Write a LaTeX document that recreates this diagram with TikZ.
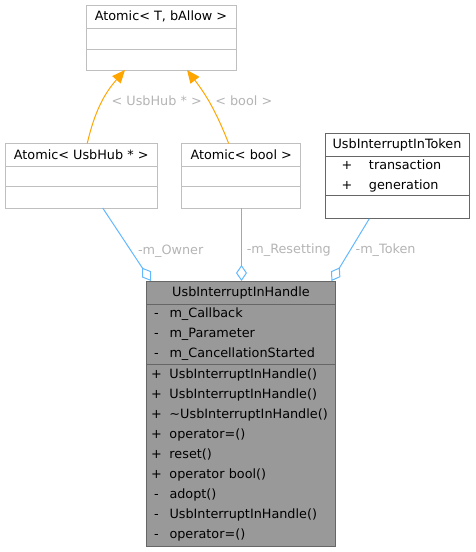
\documentclass[tikz,border=0pt]{standalone}
\usepackage{fontspec}
\setmainfont{DejaVu Sans}
\usetikzlibrary{positioning,arrows.meta}

\definecolor{lightline}{HTML}{BFBFBF}
\definecolor{darkline}{HTML}{666666}
\definecolor{mainfill}{HTML}{999999}
\definecolor{instline}{HTML}{FFA500}
\definecolor{membline}{HTML}{63B8FF}
\definecolor{lbltext}{HTML}{B4B4B4}

% one member line: sign, gap, name
\newcommand{\mem}[3][7pt]{\makebox[12pt]{#2}\hspace{#1}#3}

\tikzset{
  box/.style = {rectangle, draw = lightline, line width = 1pt, fill = white,
                inner sep = 0pt, outer sep = 0pt},
  darkbox/.style = {box, draw = darkline},
  mainbox/.style = {box, draw = darkline, fill = mainfill},
  members/.style = {align = left, inner xsep = 4pt,
                    font = \fontsize{12.8}{20}\selectfont},
  inst/.style = {draw = instline, line width = 1pt, -{Triangle[length=13pt, width=11pt]}},
  memb/.style = {draw = membline, line width = 1pt, -{Diamond[open, length=16pt, width=11pt]}},
  lbl/.style = {text = lbltext, inner sep = 0pt}
}

\begin{document}
\begin{tikzpicture}[x = 1pt, y = -1pt, font = \fontsize{12.8}{15}\selectfont]
  \useasboundingbox (0, 0) rectangle (475, 552);

  % template base
  \node[box, minimum width = 150pt, minimum height = 23pt] (baseT) at (161, 16.5) {Atomic< T, bAllow >};
  \node[box, minimum width = 150pt, minimum height = 21pt] (baseA) [below = 0pt of baseT] {};
  \node[box, minimum width = 150pt, minimum height = 21pt] (baseM) [below = 0pt of baseA] {};

  % instances
  \node[box, minimum width = 152pt, minimum height = 23pt] (hubT) at (81.2, 155) {Atomic< UsbHub * >};
  \node[box, minimum width = 152pt, minimum height = 20pt] (hubA) [below = 0pt of hubT] {};
  \node[box, minimum width = 152pt, minimum height = 21.5pt] (hubM) [below = 0pt of hubA] {};

  \node[box, minimum width = 119pt, minimum height = 23pt] (boolT) at (241.2, 155) {Atomic< bool >};
  \node[box, minimum width = 119pt, minimum height = 20pt] (boolA) [below = 0pt of boolT] {};
  \node[box, minimum width = 119pt, minimum height = 21.5pt] (boolM) [below = 0pt of boolA] {};

  % token
  \node[darkbox, minimum width = 144pt, minimum height = 23.4pt] (tokT) at (397, 145) {UsbInterruptInToken};
  \node[darkbox, members, inner xsep = 16pt, text width = 112pt, minimum width = 144pt, minimum height = 39pt] (tokA) [below = 0pt of tokT]
    {\mem[16pt]{+}{transaction}\\ \mem[16pt]{+}{generation}};
  \node[darkbox, minimum width = 144pt, minimum height = 23pt] (tokM) [below = 0pt of tokA] {};

  % handle
  \node[mainbox, minimum width = 189pt, minimum height = 23pt] (mainT) at (241, 292.5) {UsbInterruptInHandle};
  \node[mainbox, members, text width = 181pt, minimum width = 189pt, minimum height = 60.3pt] (mainA) [below = 0pt of mainT]
    {\mem{-}{m\_Callback}\\ \mem{-}{m\_Parameter}\\ \mem{-}{m\_CancellationStarted}};
  \node[mainbox, members, text width = 181pt, minimum width = 189pt, minimum height = 181.7pt] (mainM) [below = 0pt of mainA]
    {\mem{+}{UsbInterruptInHandle()}\\ \mem{+}{UsbInterruptInHandle()}\\ \mem{+}{\textasciitilde UsbInterruptInHandle()}\\
     \mem{+}{operator=()}\\ \mem{+}{reset()}\\ \mem{+}{operator bool()}\\
     \mem{-}{adopt()}\\ \mem{-}{UsbInterruptInHandle()}\\ \mem{-}{operator=()}};

  % template arguments
  \draw[inst] ([xshift = 6pt]hubT.north) to[bend left = 14] ([xshift = -36pt]baseM.south);
  \draw[inst] ([xshift = -12.5pt]boolT.north) to[bend right = 8] ([xshift = 26pt]baseM.south);
  \node[lbl] (hubLbl) at (156.7, 100.5) {< UsbHub * >};
  \node[lbl] (boolLbl) at (243.8, 100.5) {< bool >};

  % members
  \draw[memb] ([xshift = 21.5pt]hubM.south) -- ([xshift = -90pt]mainT.north);
  \draw[memb] ([xshift = 0.3pt]boolM.south) -- ([xshift = 0.5pt]mainT.north);
  \draw[memb] ([xshift = -27.7pt]tokM.south) -- ([xshift = 90.5pt]mainT.north);
  \node[lbl] (ownerLbl) at (170.7, 251) {-m\_Owner};
  \node[lbl] (resetLbl) at (288.8, 250.3) {-m\_Resetting};
  \node[lbl] (tokenLbl) at (385.6, 250) {-m\_Token};
\end{tikzpicture}
\end{document}
